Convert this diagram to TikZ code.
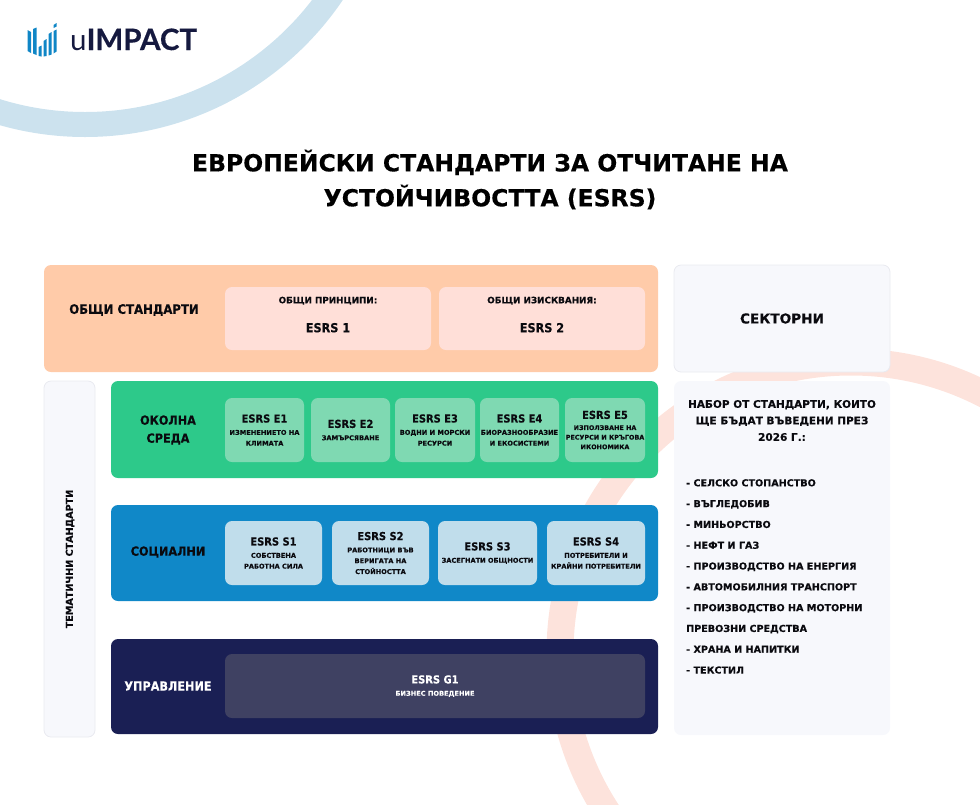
\documentclass[tikz,border=0pt]{standalone}
\usepackage{fontspec}
\setmainfont{DejaVu Sans}[BoldFeatures={FakeBold=0.3}]
\newfontfamily\codefont{DejaVu Sans}[FakeStretch=0.9,BoldFeatures={FakeBold=0.3}]
\newfontfamily\logofont{Lato}[BoldFeatures={FakeBold=0.4}]
\definecolor{ringblue}{HTML}{CCE2EE}
\definecolor{ringpink}{HTML}{FDE3DC}
\definecolor{orangebg}{HTML}{FFCBA9}
\definecolor{orangein}{HTML}{FFDFD8}
\definecolor{palebg}{HTML}{F7F8FC}
\definecolor{paleline}{HTML}{E9EAF0}
\definecolor{greenbg}{HTML}{2DC98A}
\definecolor{greenin}{HTML}{7FD9B2}
\definecolor{bluebg}{HTML}{1088C8}
\definecolor{bluein}{HTML}{C0DDEB}
\definecolor{navybg}{HTML}{1A1F54}
\definecolor{navyin}{HTML}{3F4162}
\definecolor{logoblue}{HTML}{0F86C6}
\definecolor{logonavy}{HTML}{15193F}
\definecolor{inkblack}{HTML}{0A0A0F}
\newcommand{\fsz}[2]{\fontsize{#1}{#2}\selectfont\bfseries}
% \card{name}{x1}{y1}{x2}{y2}{style}{text}
\newcommand{\card}[7]{%
  \pgfmathsetmacro{\cardw}{#4-#2}\pgfmathsetmacro{\cardh}{#5-#3}%
  \pgfmathsetmacro{\cardx}{(#2+#4)/2}\pgfmathsetmacro{\cardy}{(#3+#5)/2}%
  \node[#6,minimum width=\cardw pt,minimum height=\cardh pt] (#1) at (\cardx,\cardy) {#7};}
\newcommand{\cardcode}[1]{{\codefont\fsz{11}{13}#1}\\[1.5pt]}
\tikzset{
  x=1pt,y=-1pt,
  panel/.style={rounded corners=7pt,inner sep=0pt,align=center,text=inkblack},
  orangepanel/.style={panel,fill=orangebg},
  palepanel/.style={panel,fill=palebg,draw=paleline,line width=0.8pt},
  palefill/.style={panel,fill=palebg},
  greenpanel/.style={panel,fill=greenbg},
  bluepanel/.style={panel,fill=bluebg},
  navypanel/.style={panel,fill=navybg},
  orangecard/.style={panel,fill=orangein,font=\fsz{8.8}{12},text depth=8pt},
  smalltext/.style={font=\fsz{6.6}{10.8}},
  greencard/.style={panel,fill=greenin,smalltext},
  bluecard/.style={panel,fill=bluein,smalltext},
  navycard/.style={panel,fill=navyin,text=white,smalltext},
  rowlabel/.style={inner sep=0pt,align=center,text=inkblack,font=\codefont\fsz{12.5}{18}},
  logobar/.style={fill=logoblue,draw=none},
  headtext/.style={inner sep=0pt,align=center,text=inkblack,font=\fsz{10.5}{16.5}},
  listtext/.style={inner sep=0pt,align=left,text=inkblack,font=\fsz{9.6}{20.8}},
  titletext/.style={inner sep=0pt,align=center,text=black,font=\fsz{23.5}{35}},
}
\begin{document}
\begin{tikzpicture}
\useasboundingbox (0,0) rectangle (980,804);
\begin{scope}
\clip (0,0) rectangle (980,804);
\draw[ringblue,line width=25pt] (85,-174) circle[radius=298.5];
\draw[ringpink,line width=27pt] (851,653) circle[radius=291];
\end{scope}
% logo
\fill[logobar] (27.5,30) -- (31,32) -- (31,53) -- (27.5,51) -- cycle;
\fill[logobar] (33,29) -- (36.5,27.5) -- (36.5,55) -- (33,53.5) -- cycle;
\fill[logobar] (38.5,47) -- (41.5,45.5) -- (41.5,56.5) -- (38.5,56) -- cycle;
\fill[logobar] (43.5,41) -- (46.5,39) -- (46.5,56) -- (43.5,56.5) -- cycle;
\fill[logobar] (48.5,34) -- (51.5,32) -- (51.5,54.5) -- (48.5,55.5) -- cycle;
\fill[logobar] (53.5,31) -- (56.5,29.5) -- (56.5,51.5) -- (53.5,53.5) -- cycle;
\fill[logobar] (53.5,25) -- (56.5,23) -- (56.5,26.5) -- (53.5,28) -- cycle;
\node[anchor=base west,inner sep=0pt,text=logonavy] (logo) at (70,50) {\logofont\fontsize{29.5}{29}\selectfont u\bfseries IMPACT};
% title
\node[titletext] (title) at (490,179.5) {ЕВРОПЕЙСКИ СТАНДАРТИ ЗА ОТЧИТАНЕ НА\\УСТОЙЧИВОСТТА (ESRS)};
% panels
\card{general}{44}{265}{658}{372}{orangepanel}{}
\card{sector}{674}{265}{890}{372}{palepanel}{\fsz{13.6}{18}СЕКТОРНИ}
\card{thematic}{44}{381}{95}{737}{palepanel}{}
\card{env}{111}{381}{658}{478}{greenpanel}{}
\card{soc}{111}{505}{658}{601}{bluepanel}{}
\card{gov}{111}{639}{658}{734}{navypanel}{}
\card{setpanel}{674}{381}{890}{735}{palefill}{}
% row labels
\node[rowlabel,font=\codefont\fsz{13}{18}] (lgeneral) at (134,310) {ОБЩИ СТАНДАРТИ};
\node[rowlabel] (lenv) at (168,430) {ОКОЛНА\\СРЕДА};
\node[rowlabel] (lsoc) at (168,552) {СОЦИАЛНИ};
\node[rowlabel,text=white] (lgov) at (168,686) {УПРАВЛЕНИЕ};
\node[inner sep=0pt,rotate=90,text=inkblack] (ltheme) at (70,559) {\fsz{9.6}{12}ТЕМАТИЧНИ СТАНДАРТИ};
% general cards
\card{esrs1}{225}{287}{431}{350}{orangecard}{ОБЩИ ПРИНЦИПИ:\\[17pt]{\codefont\fsz{12.5}{15}ESRS 1}}
\card{esrs2}{439}{287}{645}{350}{orangecard}{ОБЩИ ИЗИСКВАНИЯ:\\[17pt]{\codefont\fsz{12.5}{15}ESRS 2}}
% environment
\card{e1}{225}{398}{304}{462}{greencard}{\cardcode{ESRS E1}ИЗМЕНЕНИЕТО НА\\КЛИМАТА}
\card{e2}{311}{398}{390}{462}{greencard}{\cardcode{ESRS E2}ЗАМЪРСЯВАНЕ}
\card{e3}{395}{398}{475}{462}{greencard}{\cardcode{ESRS E3}ВОДНИ И МОРСКИ\\РЕСУРСИ}
\card{e4}{480}{398}{559}{462}{greencard}{\cardcode{ESRS E4}БИОРАЗНООБРАЗИЕ\\И ЕКОСИСТЕМИ}
\card{e5}{565}{398}{645}{462}{greencard,font=\fsz{6.4}{9.6}}{\cardcode{ESRS E5}ИЗПОЛЗВАНЕ НА\\РЕСУРСИ И КРЪГОВА\\ИКОНОМИКА}
% social
\card{s1}{225}{521}{322}{585}{bluecard}{\cardcode{ESRS S1}СОБСТВЕНА\\РАБОТНА СИЛА}
\card{s2}{332}{521}{429}{585}{bluecard}{\cardcode{ESRS S2}РАБОТНИЦИ ВЪВ\\ВЕРИГАТА НА\\СТОЙНОСТТА}
\card{s3}{438}{521}{537}{585}{bluecard}{\cardcode{ESRS S3}ЗАСЕГНАТИ ОБЩНОСТИ}
\card{s4}{547}{521}{645}{585}{bluecard}{\cardcode{ESRS S4}ПОТРЕБИТЕЛИ И\\КРАЙНИ ПОТРЕБИТЕЛИ}
% governance
\card{g1}{225}{654}{645}{718}{navycard}{\cardcode{ESRS G1}БИЗНЕС ПОВЕДЕНИЕ}
% right panel
\node[headtext] (sethead) at (782,420.5) {НАБОР ОТ СТАНДАРТИ, КОИТО\\ЩЕ БЪДАТ ВЪВЕДЕНИ ПРЕЗ\\2026 Г.:};
\node[listtext,anchor=north west] (setlist) at (686,479) {- СЕЛСКО СТОПАНСТВО\\- ВЪГЛЕДОБИВ\\- МИНЬОРСТВО\\- НЕФТ И ГАЗ\\- ПРОИЗВОДСТВО НА ЕНЕРГИЯ\\- АВТОМОБИЛНИЯ ТРАНСПОРТ\\- ПРОИЗВОДСТВО НА МОТОРНИ\\ПРЕВОЗНИ СРЕДСТВА\\- ХРАНА И НАПИТКИ\\- ТЕКСТИЛ};
\end{tikzpicture}
\end{document}
